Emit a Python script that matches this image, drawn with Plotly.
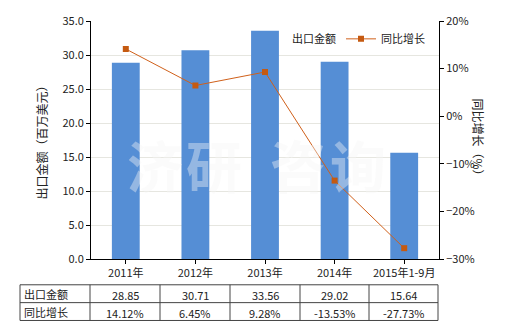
import plotly.graph_objects as go

categories = ["2011年", "2012年", "2013年", "2014年", "2015年1-9月"]
export_values = [28.85, 30.71, 33.56, 29.02, 15.64]
growth_values = [14.12, 6.45, 9.28, -13.53, -27.73]
export_labels = ["28.85", "30.71", "33.56", "29.02", "15.64"]
growth_labels = ["14.12%", "6.45%", "9.28%", "-13.53%", "-27.73%"]
row_names = ["出口金额", "同比增长"]

FONT = "Noto Sans CJK SC"
L, R, T, B = 91, 81, 19, 71
W, H = 520, 330
PW, PH = W - L - R, H - T - B

def px(x):
    return (x - L) / PW

def py(y):
    return (H - B - y) / PH

fig = go.Figure()
fig.add_trace(go.Bar(
    x=categories, y=export_values, name="出口金额",
    marker=dict(color="#558ED5", line=dict(width=0)), width=0.4, yaxis="y",
))
fig.add_trace(go.Scatter(
    x=categories, y=growth_values, name="同比增长", yaxis="y2",
    mode="lines+markers",
    line=dict(color="#D0601A", width=1),
    marker=dict(symbol="square", size=6, color="#C55A11"),
))

shapes = []
col_x = [20, 90, 160, 230, 300, 369, 438]
row_y = [285, 303, 321]
for yy in row_y:
    shapes.append(dict(type="line", xref="paper", yref="paper",
                       x0=px(col_x[0]), x1=px(col_x[-1]), y0=py(yy), y1=py(yy),
                       line=dict(color="#444", width=1)))
for xx in col_x:
    shapes.append(dict(type="line", xref="paper", yref="paper",
                       x0=px(xx), x1=px(xx), y0=py(row_y[0]), y1=py(row_y[-1]),
                       line=dict(color="#444", width=1)))

annotations = []
for i, name in enumerate(row_names):
    yc = (row_y[i] + row_y[i + 1]) / 2
    annotations.append(dict(xref="paper", yref="paper", x=px(22), y=py(yc),
                            text=name, showarrow=False, xanchor="left", yanchor="middle",
                            font=dict(family=FONT, size=11, color="#222")))
for j in range(len(categories)):
    xc = (col_x[j + 1] + col_x[j + 2]) / 2
    for i, labels in enumerate([export_labels, growth_labels]):
        yc = (row_y[i] + row_y[i + 1]) / 2 + 1
        annotations.append(dict(xref="paper", yref="paper", x=px(xc), y=py(yc),
                                text=labels[j], showarrow=False, xanchor="center", yanchor="middle",
                                font=dict(family=FONT, size=11, color="#222")))

# watermark
for ch, xc in zip("济研咨询", [125, 214, 298, 388]):
    annotations.append(dict(xref="paper", yref="paper", x=px(xc), y=py(163),
                            text="<b>" + ch + "</b>", showarrow=False,
                            font=dict(family=FONT, size=56, color="rgba(245,245,245,0.4)")))

annotations.append(dict(xref="paper", yref="paper", x=px(30), y=py(139),
                        text="出口金额（百万美元）", textangle=-90, showarrow=False,
                        font=dict(family=FONT, size=12, color="#222")))
annotations.append(dict(xref="paper", yref="paper", x=px(489), y=py(139),
                        text="同比增长（%）", textangle=90, showarrow=False,
                        font=dict(family=FONT, size=12, color="#222")))

fig.update_layout(
    width=W, height=H,
    margin=dict(l=L, r=R, t=T, b=B),
    paper_bgcolor="white", plot_bgcolor="white",
    font=dict(family=FONT, size=11, color="#222"),
    showlegend=True,
    legend=dict(orientation="h", x=px(252), y=py(37), xanchor="left", yanchor="middle",
                bgcolor="rgba(0,0,0,0)", font=dict(family=FONT, size=11, color="#222"),
                itemwidth=30, tracegroupgap=0),
    bargap=0.6,
    xaxis=dict(type="category", showline=True, linecolor="#000", linewidth=1,
               ticks="outside", ticklen=4, tickcolor="#000", showgrid=False,
               tickfont=dict(family=FONT, size=11, color="#222")),
    yaxis=dict(range=[0, 35], dtick=5, tickformat=".1f", showline=True, linecolor="#000",
               linewidth=1, ticks="outside", ticklen=4, tickcolor="#000",
               showgrid=True, gridcolor="#E6E6E0", gridwidth=1, zeroline=False,
               tickfont=dict(family=FONT, size=11, color="#222")),
    yaxis2=dict(range=[-30, 20], dtick=10, ticksuffix="%", overlaying="y", side="right",
                showline=True, linecolor="#000", linewidth=1, ticks="outside", ticklen=4,
                tickcolor="#000", showgrid=False, zeroline=False,
                tickfont=dict(family=FONT, size=11, color="#222")),
    shapes=shapes, annotations=annotations,
)

fig.write_html("out.html")
